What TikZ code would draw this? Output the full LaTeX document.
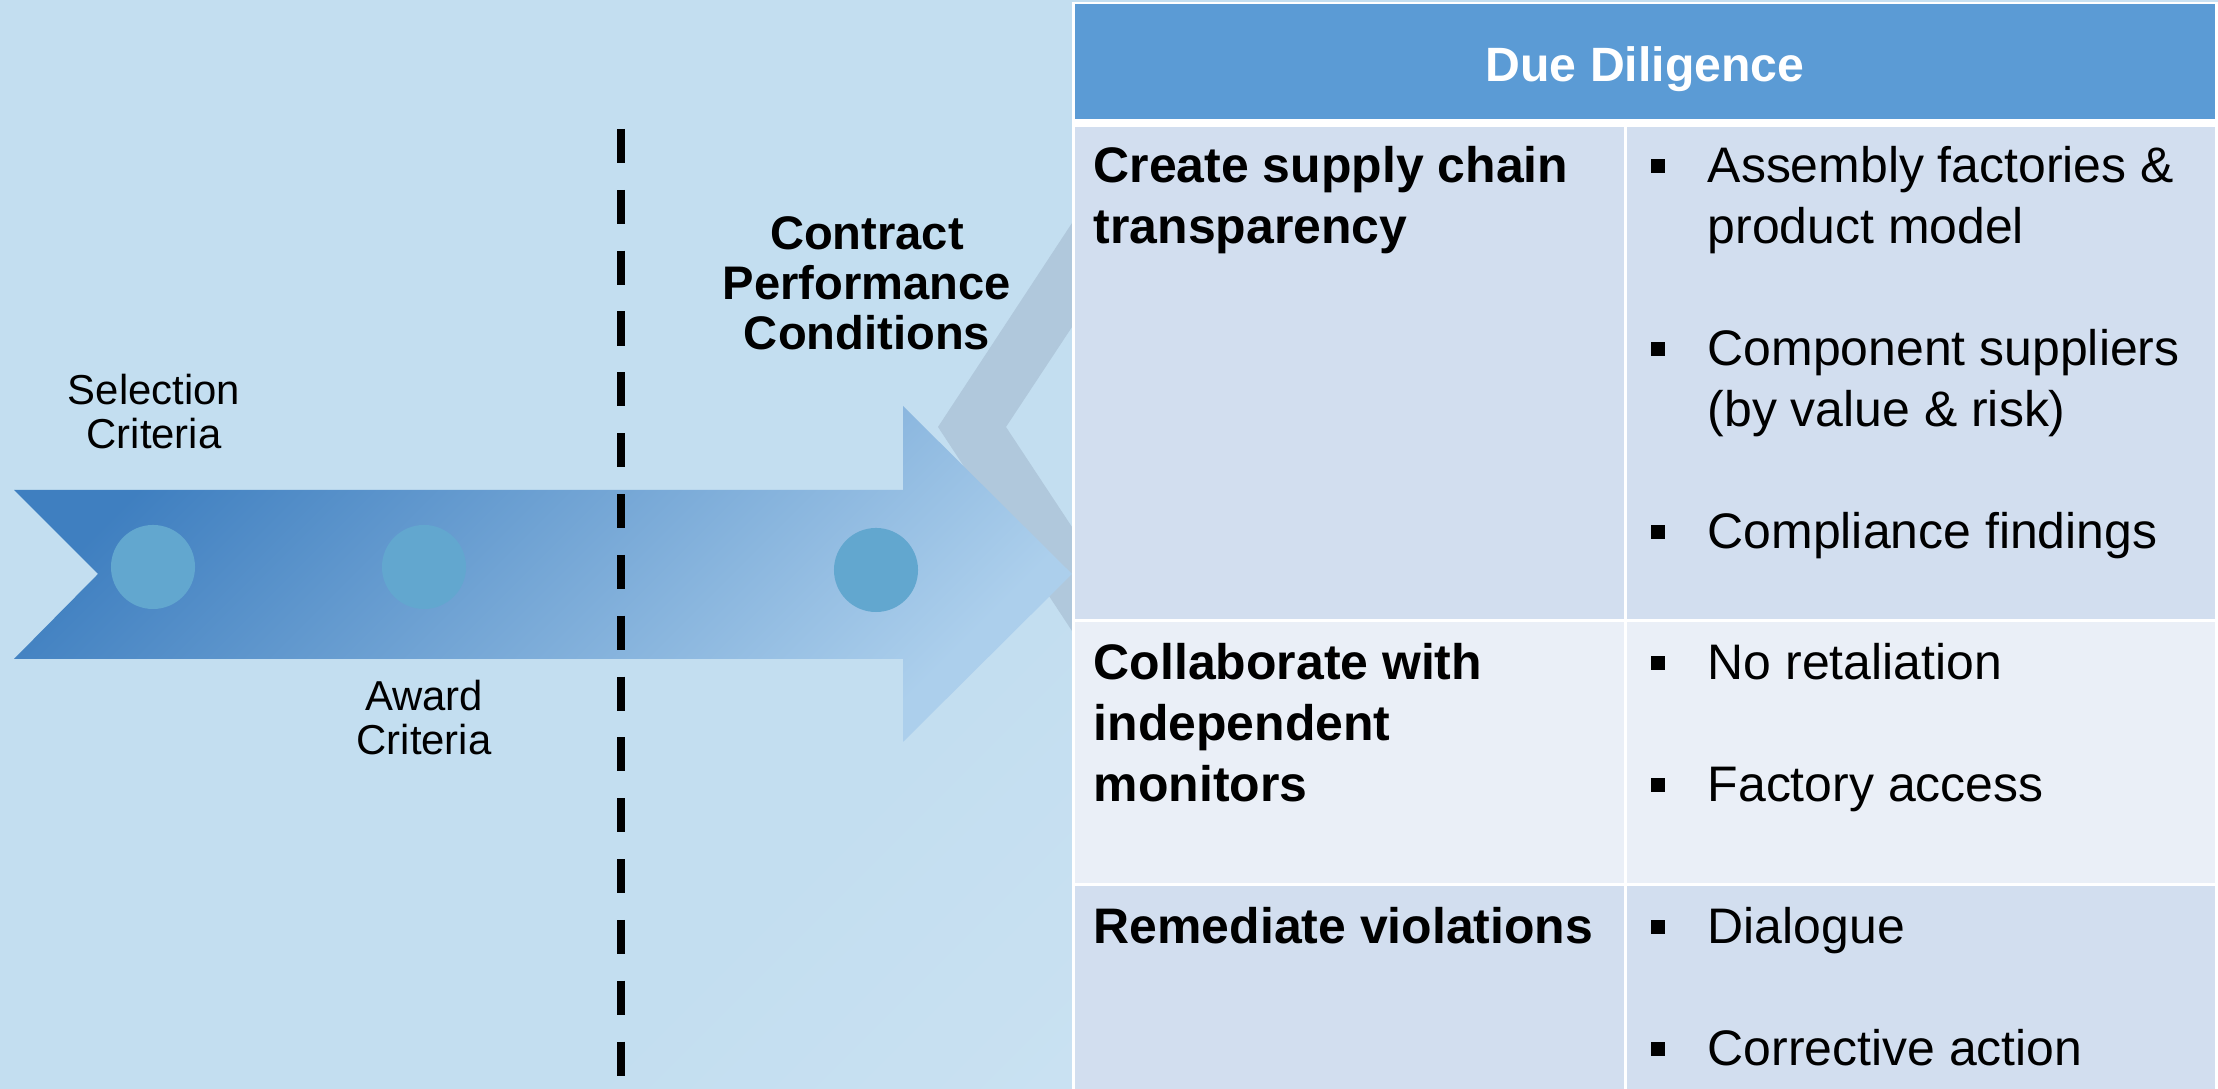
\documentclass[tikz,border=0pt]{standalone}
\usepackage{fontspec}
\setmainfont{Liberation Sans}
\usetikzlibrary{positioning}
\definecolor{bgblue}{HTML}{C3DEF0}
\definecolor{bglight}{HTML}{D1E5F4}
\definecolor{chevgrey}{HTML}{B0C8DC}
\definecolor{arrowdark}{HTML}{3F7FC0}
\definecolor{arrowlight}{HTML}{ACCFEC}
\definecolor{dotblue}{HTML}{62A7CF}
\definecolor{headblue}{HTML}{5B9BD5}
\definecolor{rowdark}{HTML}{D2DEEF}
\definecolor{rowlight}{HTML}{EAEFF7}
\tikzset{celltext/.style={inner sep=0pt,anchor=base west,font=\fontsize{14.2}{17}\selectfont}}

\begin{document}
\begin{tikzpicture}[x=0.01cm,y=0.01cm]

\tikzset{boldtext/.style={celltext,font=\fontsize{14.2}{17}\selectfont\bfseries},
bulletbox/.style={fill=black,inner sep=0pt,minimum width=4.2pt,minimum height=3.8pt},
stagetext/.style={inner sep=0pt,anchor=base,font=\fontsize{11.9}{14}\selectfont},
contracttext/.style={inner sep=0pt,anchor=base,font=\fontsize{13.4}{16}\selectfont\bfseries},
stagedot/.style={fill=dotblue,circle,inner sep=0pt,minimum size=0.84cm}}

\useasboundingbox (0,0) rectangle (2218,1089);

% Background
\shade[top color=bgblue,bottom color=bglight,middle color=bgblue,shading angle=45] (0,0) rectangle (2218,1089);

% Chevron behind the table
\fill[chevgrey] (1072,866) -- (938,662) -- (1072,458) -- (1072,562) -- (1006,662) -- (1072,762) -- cycle;

% Process arrow
\shade[top color=arrowdark,bottom color=arrowlight,shading angle=45] (14,599) -- (903,599) -- (903,683) -- (1072,515) -- (903,347) -- (903,430) -- (14,430) -- (98,515) -- cycle;
\node[stagedot] (d1) at (153,522) {};
\node[stagedot] (d2) at (424,522) {};
\node[stagedot] (d3) at (876,519) {};

% Award / performance divider
\coordinate (divtop) at (621,960);
\coordinate (divbot) at (621,0);
\draw[black,line width=2.3pt,dash pattern=on 9.7pt off 7.6pt] (divtop) -- (divbot);

% Stage labels
\node[stagetext] (sel1) at (154,684) {Selection};
\node[stagetext] (sel2) at (154,640) {Criteria};
\node[stagetext] (awd1) at (424,378) {Award};
\node[stagetext] (awd2) at (424,334) {Criteria};
\node[contracttext] (cpc1) at (867,839) {Contract};
\node[contracttext] (cpc2) at (867,789) {Performance};
\node[contracttext] (cpc3) at (867,739) {Conditions};

% Table cells
\fill[white] (1072,0) rectangle (2218,1087);
\fill[headblue] (1075,970) rectangle (2215,1085);
\fill[rowdark] (1075,470) rectangle (1624,962);
\fill[rowdark] (1627,470) rectangle (2215,962);
\fill[rowlight] (1075,206) rectangle (1624,467);
\fill[rowlight] (1627,206) rectangle (2215,467);
\fill[rowdark] (1075,0) rectangle (1624,203);
\fill[rowdark] (1627,0) rectangle (2215,203);

% Header
\node[inner sep=0pt,anchor=base,text=white,font=\fontsize{13.7}{16}\selectfont\bfseries] (due) at (1645,1007) {Due Diligence};

% Left column
\foreach \n/\y/\t in {t1/906/Create supply chain,t2/845/transparency,t3/409/Collaborate with,t4/348/independent,t5/287/monitors,t6/145/Remediate violations}
  \node[boldtext] (\n) at (1093,\y) {\t};

% Bullets
\foreach \n/\y/\t in {b1/906/Assembly factories \&,b2/723/Component suppliers,b4/540/Compliance findings,b5/409/No retaliation,b6/287/Factory access,b7/145/Dialogue,b8/23/Corrective action}
{
  \node[bulletbox] (q\n) at (1658,\y+17) {};
  \node[celltext] (\n) at (1707,\y) {\t};
}
\node[celltext] (b1x) at (1707,845) {product model};
\node[celltext] (b2x) at (1707,662) {(by value \& risk)};

\end{tikzpicture}
\end{document}
